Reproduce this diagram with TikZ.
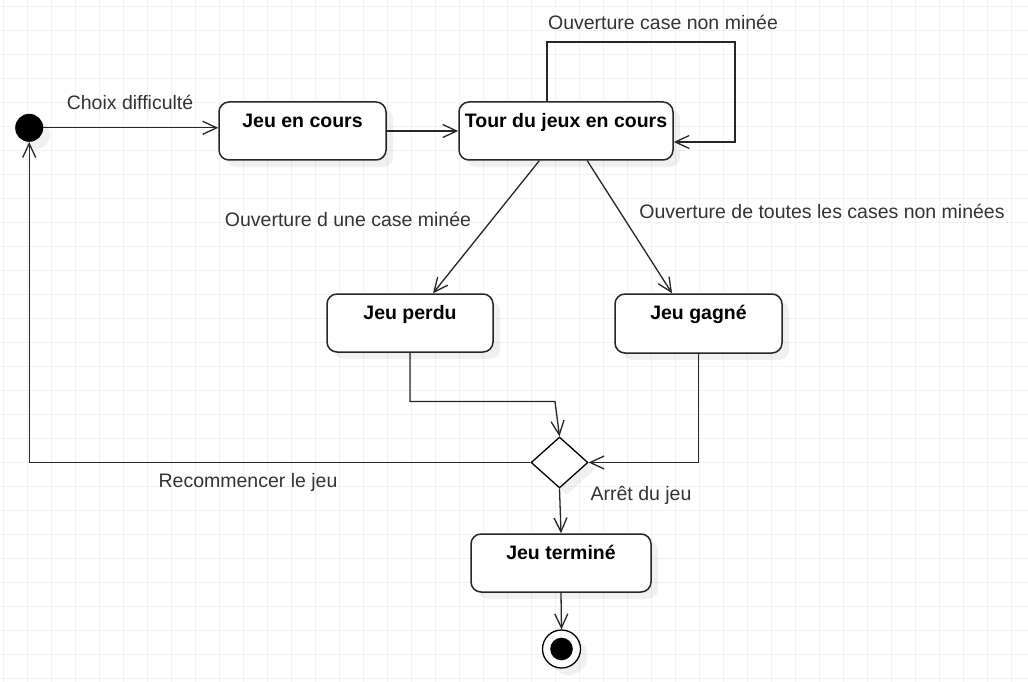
\documentclass[tikz,border=0pt]{standalone}
\usepackage{fontspec}
\setmainfont{Liberation Sans}
\usetikzlibrary{arrows.meta,shapes.geometric,shadows,calc}
\definecolor{gridc}{HTML}{F2F2F2}
\definecolor{linec}{HTML}{262626}
\definecolor{lblc}{HTML}{333333}
\begin{document}
\begin{tikzpicture}[x=1pt,y=-1pt,
  shad/.style={drop shadow={shadow xshift=7pt, shadow yshift=-7pt, opacity=0.06, fill=black}},
  state/.style={draw=linec, line width=1.5pt, rounded corners=10pt, fill=white, shad, inner sep=0pt},
  stxt/.style={font=\fontsize{19.5}{22}\selectfont\bfseries, text=black, anchor=base, inner sep=0pt},
  lbl/.style={font=\fontsize{19.5}{22}\selectfont, text=lblc, anchor=base, inner sep=0pt},
  conn/.style={draw=linec, line width=1.3pt, -{Straight Barb[length=14pt,width=13pt,line width=1.3pt]}},
]
\useasboundingbox (0,0) rectangle (1028,682);
\fill[white] (0,0) rectangle (1028,682);
% grid
\foreach \i in {0,...,42} { \draw[gridc, line width=0.9pt] (3.3+24*\i,0) -- (3.3+24*\i,682); }
\foreach \j in {0,...,28} { \draw[gridc, line width=0.9pt] (0,6.3+24*\j) -- (1028,6.3+24*\j); }

% initial state
\node[circle, fill=black, minimum size=28pt, inner sep=0pt, shad] (init) at (29.2,127.8) {};

% states
\node[state, minimum width=167pt, minimum height=58pt] (b1) at (302.5,131) {};
\node[stxt] (t1) at ($(b1.north)+(0,26)$) {Jeu en cours};
\node[state, minimum width=214pt, minimum height=58pt] (b2) at (566,131) {};
\node[stxt] (t2) at ($(b2.north)+(0,26)$) {Tour du jeux en cours};
\node[state, minimum width=166pt, minimum height=58pt] (b3) at (410,323) {};
\node[stxt] (t3) at ($(b3.north)+(0,26)$) {Jeu perdu};
\node[state, minimum width=167pt, minimum height=59pt] (b4) at (698.5,323.5) {};
\node[stxt] (t4) at ($(b4.north)+(0,26)$) {Jeu gagné};
\node[state, minimum width=180pt, minimum height=58pt] (b5) at (561,563) {};
\node[stxt] (t5) at ($(b5.north)+(0,26)$) {Jeu terminé};

% decision
\node[diamond, draw=black, line width=1.3pt, fill=white, minimum width=57pt, minimum height=51pt, inner sep=0pt, shad] (dec) at (559.5,462.5) {};

% final state
\node[circle, draw=black, line width=1.3pt, fill=white, minimum size=38pt, inner sep=0pt, shad] (fin) at (561.5,649) {};
\node[circle, fill=black, minimum size=22.6pt, inner sep=0pt] (fini) at (fin.center) {};

% connectors
\draw[conn] (init.east) -- (b1.west |- init.east);
\node[lbl] (l1) at (130,110) {Choix difficulté};
\draw[conn] (b1.east) -- (b2.west);

\coordinate (la) at (547,42);
\coordinate (lb) at (735,42);
\coordinate (lc) at (735,142);
\draw[conn] (b2.north -| la) -- (la) -- (lb) -- (lc) -- (b2.east |- lc);
\node[lbl] (l2) at (663,30) {Ouverture case non minée};

\draw[conn] ($(b2.south west)+(81,0)$) -- ($(b3.north)+(23,0)$);
\node[lbl] (l3) at (348,226) {Ouverture d une case minée};
\draw[conn] ($(b2.south west)+(129,0)$) -- ($(b4.north)+(-26.5,0)$);
\node[lbl] (l4) at (822,218) {Ouverture de toutes les cases non minées};

\coordinate (pa) at (410,401.5);
\coordinate (pb) at (555,401.5);
\draw[conn] (b3.south) -- (pa) -- (pb) -- (dec.north);
\draw[conn] (b4.south) -- (b4.south |- dec.east) -- (dec.east);

\draw[conn] (dec.west) -- (dec.west -| init.south) -- (init.south);
\node[lbl] (l5) at (248,487) {Recommencer le jeu};

\draw[conn] (dec.south) -- (b5.north);
\node[lbl] (l6) at (641,500) {Arrêt du jeu};

\draw[conn] (b5.south) -- (fin.north);
\end{tikzpicture}
\end{document}
